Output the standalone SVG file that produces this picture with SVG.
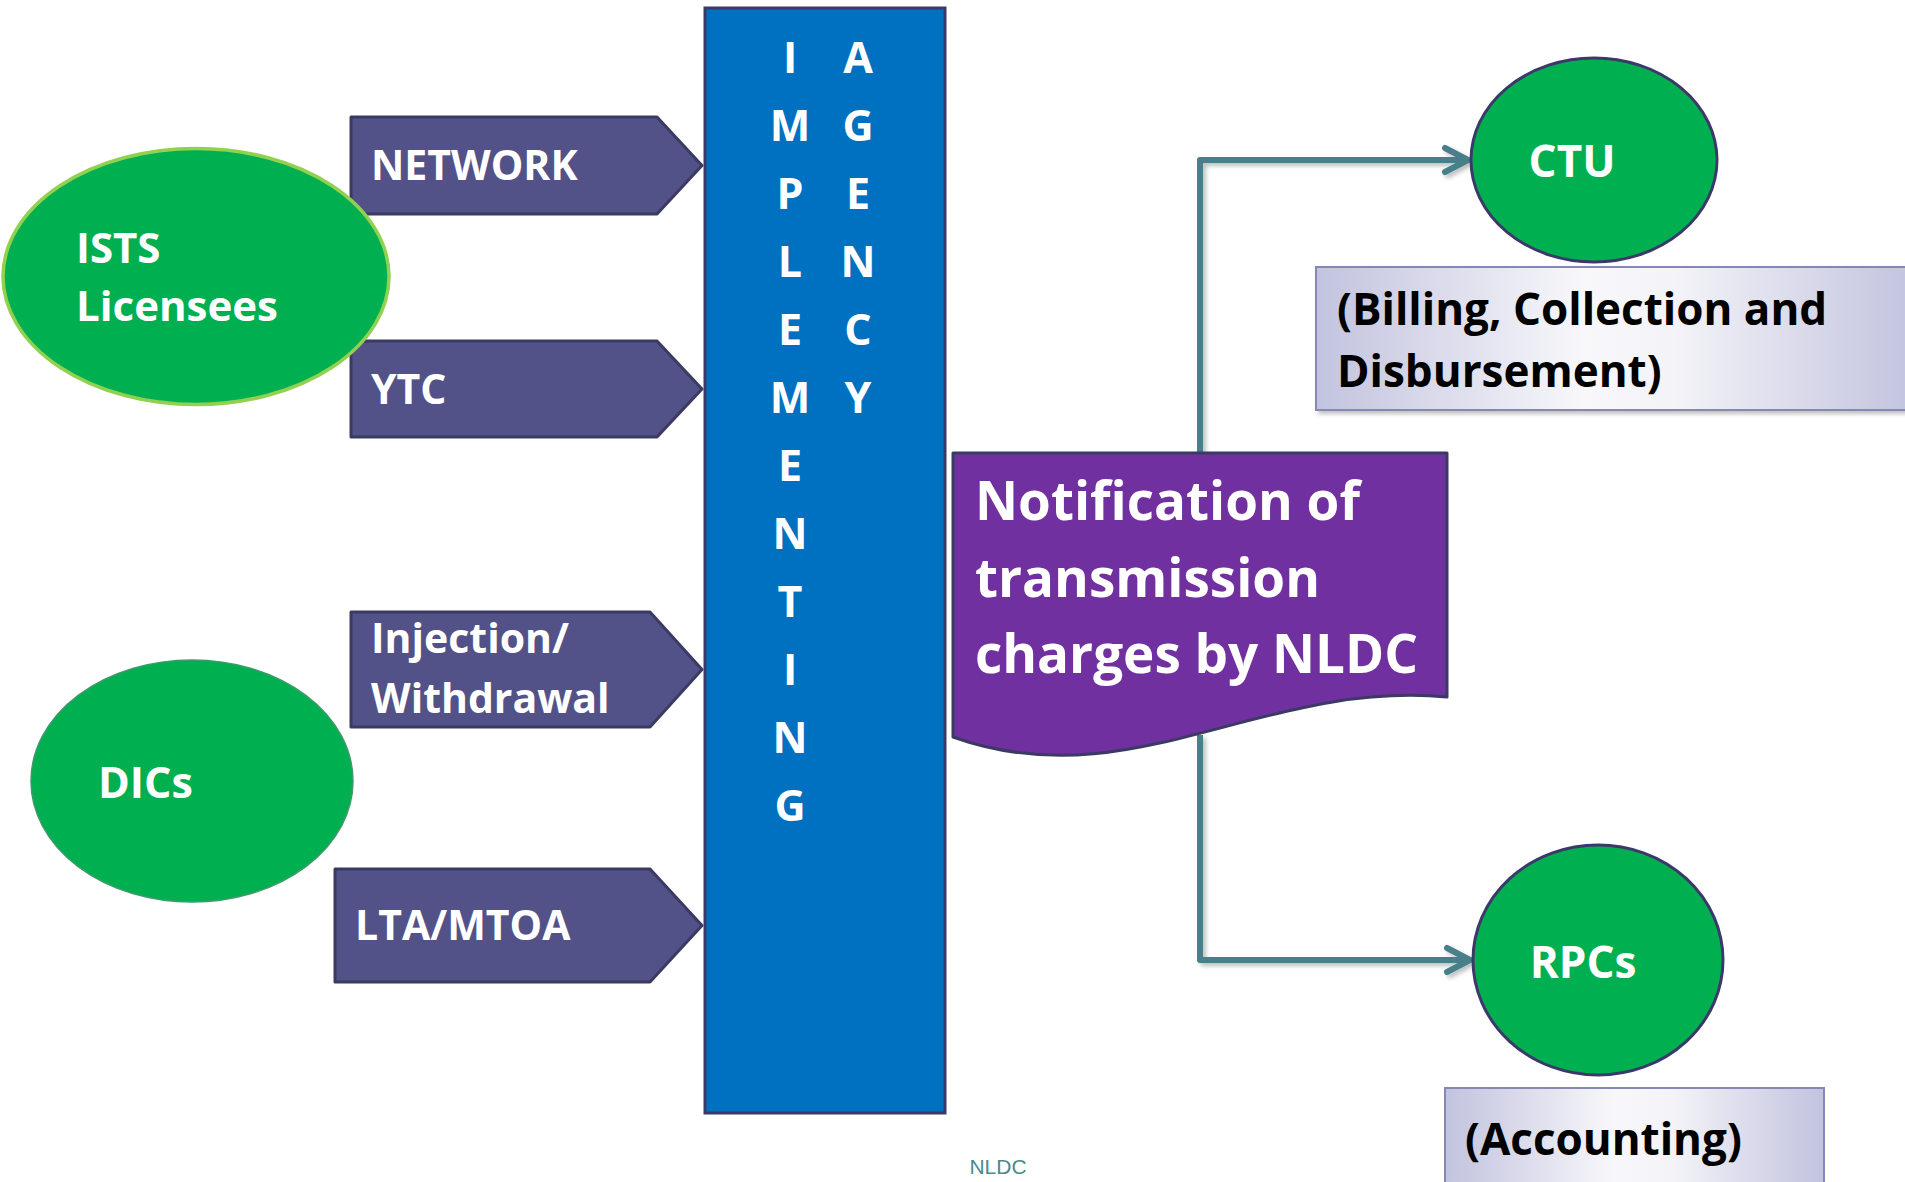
<svg xmlns="http://www.w3.org/2000/svg" width="1905" height="1182" viewBox="0 0 1905 1182">
  <style>
    .lbl { font-family: "Open Sans", "Liberation Sans", sans-serif; font-weight: 700; fill: #FFFFFF; }
    .blk { font-family: "Open Sans", "Liberation Sans", sans-serif; font-weight: 700; fill: #000000; }
    .pent { fill: #525288; stroke: #3A3A63; stroke-width: 3; stroke-linejoin: round; }
    .green { fill: #00B050; }
    .conn { fill: none; stroke: #47808A; stroke-width: 6; stroke-linejoin: round; }
    .note { fill: url(#lav); stroke: #8787B5; stroke-width: 2; }
    .vl { font-size: 43px; text-anchor: middle; }
  </style>
  <defs>
    <linearGradient id="lav" x1="0" y1="0" x2="1" y2="0">
      <stop offset="0" stop-color="#C2C3DE"/>
      <stop offset="0.45" stop-color="#F8F8FB"/>
      <stop offset="0.6" stop-color="#F3F3F8"/>
      <stop offset="1" stop-color="#C2C3DE"/>
    </linearGradient>
    <filter id="sh" x="-10%" y="-10%" width="130%" height="130%">
      <feDropShadow dx="3" dy="3" stdDeviation="2" flood-color="#000000" flood-opacity="0.25"/>
    </filter>
    <marker id="chev" markerUnits="userSpaceOnUse" viewBox="-30 -20 40 40" refX="0" refY="0" markerWidth="40" markerHeight="40" orient="auto" overflow="visible">
      <path d="M-23,-12 L0,0 L-23,12" fill="none" stroke="#47808A" stroke-width="6" stroke-linecap="round" stroke-linejoin="round"/>
    </marker>
  </defs>

  <g id="connectors" filter="url(#sh)">
    <path class="conn" d="M1200,455 V160 H1468" marker-end="url(#chev)"/>
    <path class="conn" d="M1200,735 V960 H1470" marker-end="url(#chev)"/>
  </g>

  <g id="implementing-agency">
    <rect x="705" y="8" width="240" height="1105" fill="#0070C0" stroke="#3A3A6A" stroke-width="3"/>
    <text class="lbl vl" x="790" y="73">I</text>
    <text class="lbl vl" x="790" y="141">M</text>
    <text class="lbl vl" x="790" y="209">P</text>
    <text class="lbl vl" x="790" y="277">L</text>
    <text class="lbl vl" x="790" y="345">E</text>
    <text class="lbl vl" x="790" y="413">M</text>
    <text class="lbl vl" x="790" y="481">E</text>
    <text class="lbl vl" x="790" y="549">N</text>
    <text class="lbl vl" x="790" y="617">T</text>
    <text class="lbl vl" x="790" y="685">I</text>
    <text class="lbl vl" x="790" y="753">N</text>
    <text class="lbl vl" x="790" y="821">G</text>
    <text class="lbl vl" x="858" y="73">A</text>
    <text class="lbl vl" x="858" y="141">G</text>
    <text class="lbl vl" x="858" y="209">E</text>
    <text class="lbl vl" x="858" y="277">N</text>
    <text class="lbl vl" x="858" y="345">C</text>
    <text class="lbl vl" x="858" y="413">Y</text>
  </g>

  <g id="network">
    <path class="pent" d="M351,117 H657 L702,165.5 L657,214 H351 Z"/>
    <text class="lbl" x="371" y="180" font-size="41">NETWORK</text>
  </g>
  <g id="ytc">
    <path class="pent" d="M351,341 H657 L702,389 L657,437 H351 Z"/>
    <text class="lbl" x="371" y="404" font-size="41">YTC</text>
  </g>
  <g id="injection-withdrawal">
    <path class="pent" d="M351,612 H650 L702,669.5 L650,727 H351 Z"/>
    <text class="lbl" x="371" y="653" font-size="41">Injection/</text>
    <text class="lbl" x="371" y="713" font-size="41">Withdrawal</text>
  </g>
  <g id="lta-mtoa">
    <path class="pent" d="M335,869 H650 L702,925.5 L650,982 H335 Z"/>
    <text class="lbl" x="355" y="940" font-size="41">LTA/MTOA</text>
  </g>

  <g id="ists-licensees">
    <ellipse class="green" cx="196" cy="276.5" rx="193" ry="128" stroke="#92D050" stroke-width="3.5"/>
    <text class="lbl" x="76" y="263" font-size="42">ISTS</text>
    <text class="lbl" x="76" y="321" font-size="42">Licensees</text>
  </g>

  <g id="dics">
    <ellipse class="green" cx="192" cy="781" rx="161" ry="121" stroke="#3E9A6A" stroke-width="1.5"/>
    <text class="lbl" x="98" y="798" font-size="43">DICs</text>
  </g>

  <g id="notification">
    <path d="M953,453 H1447 V697 C1260,680 1130,800 953,737 Z" fill="#7030A0" stroke="#3A3A63" stroke-width="3" stroke-linejoin="round"/>
    <text class="lbl" x="975" y="520" font-size="53">Notification of</text>
    <text class="lbl" x="975" y="597" font-size="53">transmission</text>
    <text class="lbl" x="975" y="673" font-size="53">charges by NLDC</text>
  </g>

  <g id="ctu">
    <ellipse class="green" cx="1594" cy="160" rx="123" ry="102" stroke="#3A3A6A" stroke-width="3"/>
    <text class="lbl" x="1572" y="177" font-size="44" text-anchor="middle">CTU</text>
  </g>

  <g id="billing-note">
    <rect class="note" x="1316" y="267" width="600" height="143" filter="url(#sh)"/>
    <text class="blk" x="1337" y="325" font-size="44">(Billing, Collection and</text>
    <text class="blk" x="1337" y="387" font-size="44">Disbursement)</text>
  </g>

  <g id="rpcs">
    <ellipse class="green" cx="1598" cy="960" rx="125" ry="115" stroke="#3A3A6A" stroke-width="3"/>
    <text class="lbl" x="1583" y="978" font-size="44" text-anchor="middle">RPCs</text>
  </g>

  <g id="accounting-note">
    <rect class="note" x="1445" y="1088" width="379" height="110"/>
    <text class="blk" x="1465" y="1155" font-size="44">(Accounting)</text>
  </g>

  <text x="998" y="1174" font-family="Liberation Sans, Arial, sans-serif" font-size="21" fill="#4A8A8C" text-anchor="middle">NLDC</text>
</svg>
